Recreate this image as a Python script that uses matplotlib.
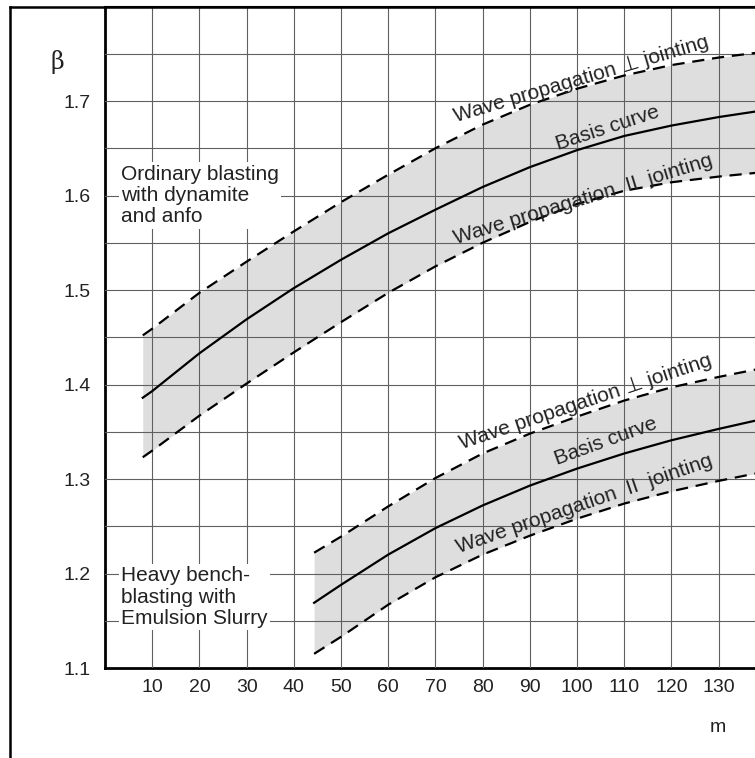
import matplotlib
matplotlib.use("Agg")
import matplotlib.pyplot as plt
from matplotlib.lines import Line2D
from matplotlib.ticker import MultipleLocator

# --- data (distance m vs. beta) ---
# ordinary blasting with dynamite and anfo
x_dyn = [8, 10, 20, 30, 40, 50, 60, 70, 80, 90, 100, 110, 120, 130, 138]
basis_dyn = [1.386, 1.393, 1.433, 1.469, 1.502, 1.532, 1.560, 1.585, 1.609,
             1.630, 1.648, 1.663, 1.674, 1.683, 1.689]
perp_dyn = [1.452, 1.459, 1.497, 1.530, 1.562, 1.593, 1.622, 1.650, 1.675,
            1.696, 1.713, 1.727, 1.738, 1.746, 1.751]
par_dyn = [1.323, 1.330, 1.367, 1.401, 1.434, 1.466, 1.497, 1.525, 1.550,
           1.572, 1.591, 1.605, 1.614, 1.620, 1.624]

# heavy bench-blasting with emulsion slurry
x_emu = [44.3, 50, 60, 70, 80, 90, 100, 110, 120, 130, 138]
basis_emu = [1.169, 1.188, 1.220, 1.248, 1.272, 1.293, 1.311, 1.327, 1.341,
             1.353, 1.362]
perp_emu = [1.222, 1.239, 1.271, 1.301, 1.327, 1.348, 1.366, 1.383, 1.397,
            1.408, 1.416]
par_emu = [1.115, 1.133, 1.167, 1.196, 1.220, 1.240, 1.258, 1.274, 1.287,
           1.298, 1.306]

x_ticks = [10, 20, 30, 40, 50, 60, 70, 80, 90, 100, 110, 120, 130]
y_ticks = [1.1, 1.2, 1.3, 1.4, 1.5, 1.6, 1.7]

plt.rcParams['font.family'] = ['Liberation Sans', 'DejaVu Sans']

W, H = 755, 758
fig = plt.figure(figsize=(W / 100, H / 100), dpi=100)
ax = fig.add_axes([105 / W, 1 - 668 / H, 1 - 105 / W, (668 - 6.5) / H])
ax.set_xlim(0, 137.7)
ax.set_ylim(1.1, 1.8)

# grid
ax.xaxis.set_major_locator(MultipleLocator(10))
ax.yaxis.set_major_locator(MultipleLocator(0.1))
ax.yaxis.set_minor_locator(MultipleLocator(0.05))
ax.grid(True, which='both', color='#606060', lw=0.8)
ax.set_axisbelow(False)
ax.set_xticks(x_ticks)
ax.set_xticklabels([str(v) for v in x_ticks])
ax.set_yticks(y_ticks)
ax.set_yticklabels([f"{v:.1f}" for v in y_ticks])
ax.tick_params(which='both', length=0, labelsize=14, labelcolor='#222222')
ax.tick_params(axis='y', pad=10)
ax.tick_params(axis='x', pad=8)

for s in ['left', 'bottom']:
    ax.spines[s].set_linewidth(2)
ax.spines['top'].set_linewidth(1.5)
ax.spines['right'].set_visible(False)

dash = (0, (5.5, 3.5))
for x, b, p, q in [(x_dyn, basis_dyn, perp_dyn, par_dyn),
                   (x_emu, basis_emu, perp_emu, par_emu)]:
    ax.fill_between(x, q, p, color='#dedede', lw=0, zorder=1)
    ax.plot(x, b, color='black', lw=1.6, zorder=3)
    ax.plot(x, p, color='black', lw=1.6, ls=dash, zorder=3)
    ax.plot(x, q, color='black', lw=1.6, ls=dash, zorder=3)

# curve labels
lab = dict(fontsize=15, color='#222222', ha='center', va='center',
           rotation_mode='anchor', zorder=4)
ax.text(101.0, 1.723, "Wave propagation \u22a5 jointing", rotation=16.5, **lab)
ax.text(106.4, 1.671, "Basis curve", rotation=18, **lab)
ax.text(101.3, 1.596, "Wave propagation  II  jointing", rotation=17, **lab)
ax.text(101.8, 1.381, "Wave propagation \u22a5 jointing", rotation=18.5, **lab)
ax.text(106.1, 1.340, "Basis curve", rotation=20, **lab)
ax.text(101.5, 1.273, "Wave propagation  II  jointing", rotation=19, **lab)

box = dict(boxstyle='square,pad=0.12', fc='white', ec='none')
ax.text(3.4, 1.6, "Ordinary blasting\nwith dynamite\nand anfo", fontsize=15,
        color='#222222', ha='left', va='center', linespacing=1.15, bbox=box,
        zorder=4)
ax.text(3.4, 1.175, "Heavy bench-\nblasting with\nEmulsion Slurry", fontsize=15,
        color='#222222', ha='left', va='center', linespacing=1.15, bbox=box,
        zorder=4)

fig.text(57 / W, 1 - 62 / H, "\u03b2", fontsize=17, family='DejaVu Serif',
         ha='center', va='center', color='#222222')
fig.text(718 / W, 1 - 727 / H, "m", fontsize=14, ha='center', va='center',
         color='#222222')

# outer frame (left and top)
fx = 10 / W
fy = 1 - 6.5 / H
fig.add_artist(Line2D([fx, fx], [0, fy], transform=fig.transFigure,
                      color='black', lw=1.8))
fig.add_artist(Line2D([fx, 1], [fy, fy], transform=fig.transFigure,
                      color='black', lw=1.8))

fig.savefig("out.png", dpi=100)
